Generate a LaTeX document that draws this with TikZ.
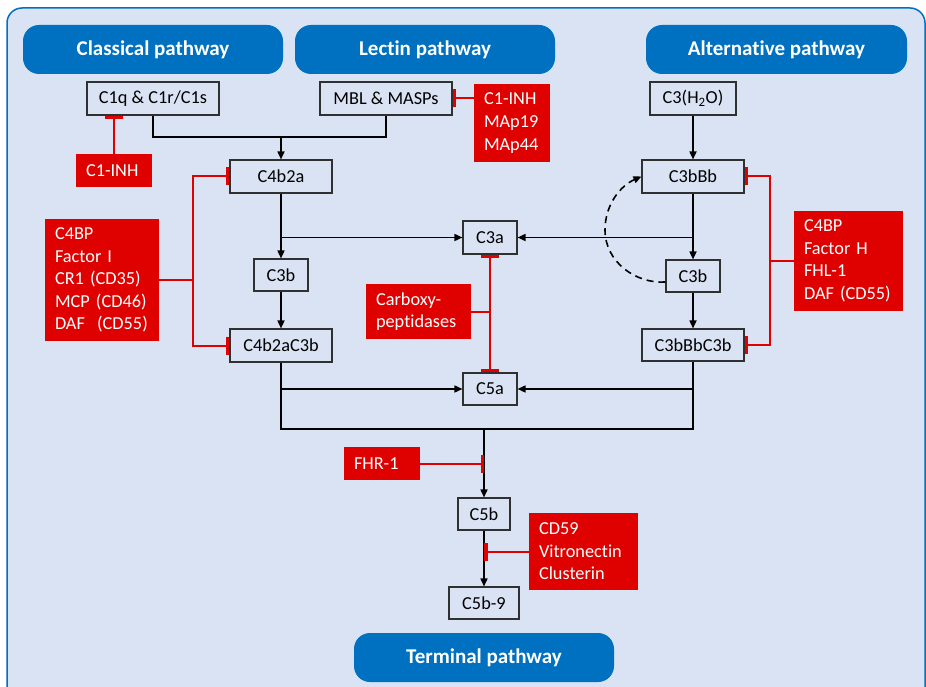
\documentclass[tikz,border=0pt]{standalone}
\usepackage{fontspec}
\setmainfont{Carlito}[Ligatures={NoCommon,NoDiscretionary}]
\usetikzlibrary{arrows.meta}
\definecolor{bgblue}{HTML}{DAE3F3}
\definecolor{hdrblue}{HTML}{0070C0}
\definecolor{inhred}{HTML}{DF0000}
\definecolor{boxgray}{HTML}{303030}
\begin{document}
\begin{tikzpicture}[x=1pt,y=-1pt,
  box/.style={draw=boxgray, line width=1.1pt, minimum height=33pt, inner sep=0pt, font=\fontsize{18.3}{22}\selectfont},
  redbox/.style={fill=inhred, text=white, inner xsep=10pt, inner ysep=0pt, align=left, font=\fontsize{18.3}{22.6}\selectfont},
  hdr/.style={fill=hdrblue, rounded corners=16pt, text=white, font=\bfseries\fontsize{21}{25}\selectfont, minimum width=260pt, minimum height=49pt},
  act/.style={line width=1.6pt, -{Triangle[length=8pt,width=7pt]}},
  lnk/.style={line width=1.6pt},
  inh/.style={draw=inhred, line width=2pt, -{Bar[width=18pt,line width=3.5pt]}},
  rl/.style={draw=inhred, line width=2pt}]
\useasboundingbox (0,0) rectangle (926,687);
\fill[white] (0,0) rectangle (926,687);
\begin{scope}
\clip (0,0) rectangle (926,687);
\draw[fill=bgblue, draw=hdrblue, line width=1.5pt, rounded corners=15pt] (7,8) rectangle (925,720);
\end{scope}
% headers
\node[hdr] (hC) at (153,49.5) {Classical pathway};
\node[hdr] (hL) at (425,49.5) {Lectin pathway};
\node[hdr, minimum width=261pt] (hA) at (776.5,49.5) {Alternative pathway};
\node[hdr] (hT) at (484,657.5) {Terminal pathway};
% nodes
\node[box, minimum width=132pt] (c1q) at (153,98.5) {C1q \& C1r/C1s};
\node[box, minimum width=132pt] (mbl) at (386,98.5) {MBL \& MASPs};
\node[box, minimum width=86pt] (c3h) at (693,98.5) {C3(H\textsubscript{2}O)};
\node[box, minimum width=102pt] (c4b2a) at (281,176.5) {C4b2a};
\node[box, minimum width=102pt] (c3bBb) at (693,176.5) {C3bBb};
\node[box, minimum width=54pt, minimum height=32pt] (c3bL) at (281,275) {C3b};
\node[box, minimum width=54pt] (c3a) at (490,237.5) {C3a};
\node[box, minimum width=54pt, minimum height=32pt] (c3bR) at (693,276) {C3b};
\node[box, minimum width=102pt] (c4c3) at (281,345.5) {C4b2aC3b};
\node[box, minimum width=102pt, minimum height=32pt] (cbc3) at (693,345) {C3bBbC3b};
\node[box, minimum width=54pt, minimum height=32pt] (c5a) at (490,389) {C5a};
\node[box, minimum width=52pt, minimum height=32pt] (c5b) at (484,514) {C5b};
\node[box, minimum width=70pt, minimum height=32pt] (c5b9) at (484,603) {C5b-9};
% red inhibitor boxes
\node[redbox, text width=56pt, minimum height=33pt] (rC1) at (114,170.5) {C1-INH};
\node[redbox, text width=56pt, minimum height=78pt] (rMBL) at (512,123) {C1-INH\\MAp19\\MAp44};
\node[redbox, text width=94pt, minimum height=122pt] (rLeft) at (102,280) {C4BP\\Factor I\\CR1 (CD35)\\MCP (CD46)\\DAF\ \ (CD55)};
\node[redbox, text width=85pt, minimum height=55pt] (rCarb) at (418.5,311.5) {Carboxy-\\peptidases};
\node[redbox, text width=89pt, minimum height=100pt] (rRight) at (848.5,261) {C4BP\\Factor H\\FHL-1\\DAF (CD55)};
\node[redbox, text width=56pt, minimum height=33pt] (rFHR) at (382,463.5) {FHR-1};
\node[redbox, text width=89pt, minimum height=77pt] (rCD59) at (583.5,551.5) {CD59\\Vitronectin\\Clusterin};
% junction coordinates
\coordinate (j1) at (281,137);
\coordinate (jL) at (281,429);
\coordinate (jR) at (693,429);
\coordinate (jM) at (484,429);
\coordinate (kL) at (193,280);
\coordinate (kR) at (770,261);
\coordinate (kC) at (490,312);
% activation connectors
\draw[lnk] (c1q.south) |- (j1);
\draw[lnk] (mbl.south) |- (j1);
\draw[act] (j1) -- (c4b2a.north);
\draw[act] (c3h.south) -- (c3bBb.north);
\draw[act] (c4b2a.south) -- (c3bL.north);
\draw[act] (c4b2a.south |- c3a.west) -- (c3a.west);
\draw[act] (c3bBb.south |- c3a.east) -- (c3a.east);
\draw[act] (c3bL.south) -- (c4c3.north);
\draw[act] (c3bBb.south) -- (c3bR.north);
\draw[act] (c3bR.south) -- (cbc3.north);
\draw[lnk] (c4c3.south) -- (jL) -- (jR) -- (cbc3.south);
\draw[act] (c4c3.south |- c5a.west) -- (c5a.west);
\draw[act] (cbc3.south |- c5a.east) -- (c5a.east);
\draw[act] (jM) -- (c5b.north);
\draw[act] (c5b.south) -- (c5b9.north);
\draw[line width=1.6pt, dash pattern=on 7pt off 5pt, -{Triangle[length=8pt,width=7pt]}]
  (c3bR.west |- 0,282) .. controls (636,284) and (605,262) .. (605,230)
  .. controls (605,205) and (620,186) .. (c3bBb.west);
% inhibition connectors
\draw[inh] (rC1.north) -- (rC1.north |- c1q.south);
\draw[inh] (rMBL.west |- mbl.east) -- (mbl.east);
\draw[rl] (rLeft.east) -- (kL);
\draw[inh] (kL) |- (c4b2a.west);
\draw[inh] (kL) |- (c4c3.west);
\draw[rl] (rRight.west) -- (kR);
\draw[inh] (kR) |- (c3bBb.east);
\draw[inh] (kR) |- (cbc3.east);
\draw[rl] (rCarb.east |- kC) -- (kC);
\draw[inh] (kC) -- (c3a.south);
\draw[inh] (kC) -- (c5a.north);
\draw[inh] (rFHR.east) -- (rFHR.east -| jM);
\draw[inh] (rCD59.west) -- (rCD59.west -| c5b.south);
\end{tikzpicture}
\end{document}
